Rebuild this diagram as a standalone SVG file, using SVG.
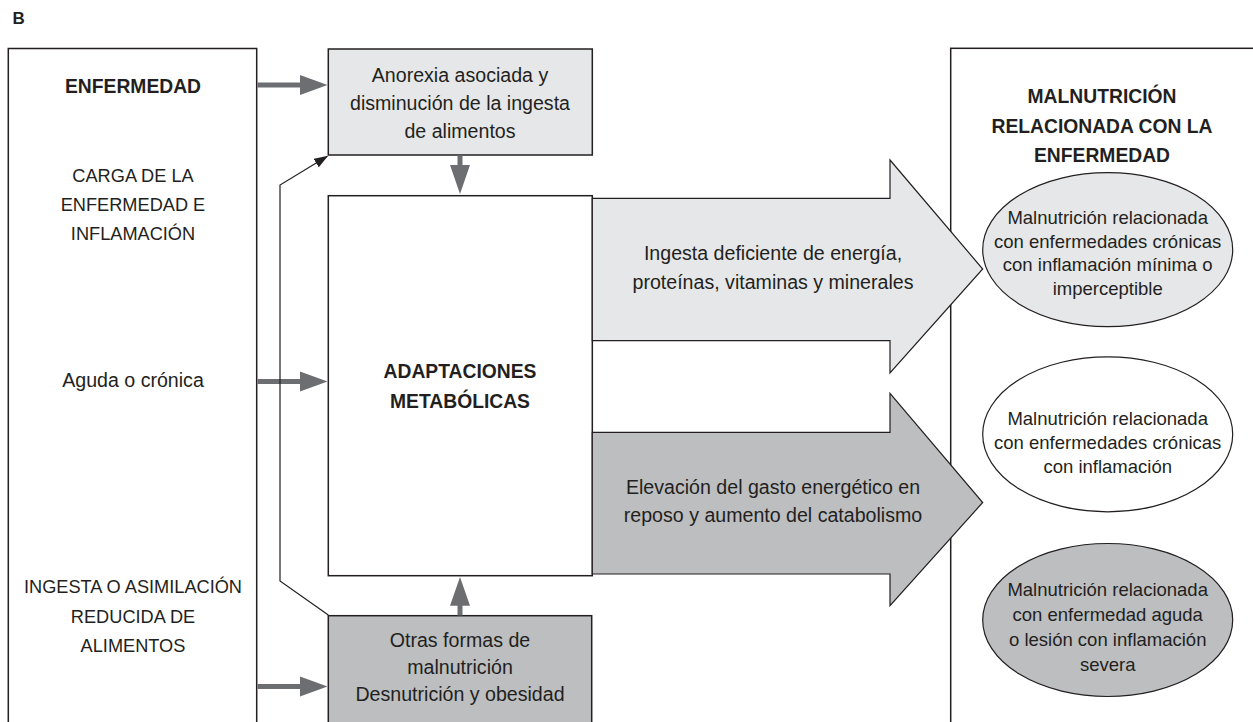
<svg xmlns="http://www.w3.org/2000/svg" width="1253" height="722" viewBox="0 0 1253 722">
<defs>
<style>
text{font-family:"Liberation Sans",Arial,sans-serif;fill:#231f20;text-anchor:middle}
.b{font-weight:bold;font-size:19.3px}
.r{font-size:19.6px}
.c{font-size:18.2px}
.e{font-size:18.5px}
.box{stroke:#231f20;stroke-width:1.5}
.thick{fill:#6d6e71}
.thin{fill:none;stroke:#231f20;stroke-width:1.2}
.ell{stroke:#231f20;stroke-width:1.2}
</style>
<marker id="ah" viewBox="0 0 14 10" refX="13" refY="5" markerWidth="14" markerHeight="10" markerUnits="userSpaceOnUse" orient="auto">
<path d="M0,0 L14,5 L0,10 Z" fill="#231f20"/>
</marker>
</defs>
<rect width="1253" height="722" fill="#fff"/>
<text x="12.5" y="24" style="font-weight:bold;font-size:17px;text-anchor:start">B</text>

<g id="enfermedad">
<rect class="box" x="8.3" y="48.5" width="248.4" height="700" fill="#fff"/>
<text class="b" x="133" y="93.3">ENFERMEDAD</text>
<text class="c" x="133" y="181.7">CARGA DE LA</text>
<text class="c" x="133" y="211">ENFERMEDAD E</text>
<text class="c" x="133" y="240">INFLAMACIÓN</text>
<text class="r" x="133" y="387">Aguda o crónica</text>
<text class="c" x="133" y="593">INGESTA O ASIMILACIÓN</text>
<text class="c" x="133" y="622.7">REDUCIDA DE</text>
<text class="c" x="133" y="651.7">ALIMENTOS</text>
</g>

<g id="anorexia">
<rect class="box" x="328.3" y="49" width="264" height="106" fill="#e6e7e8"/>
<text class="r" x="460" y="81.7">Anorexia asociada y</text>
<text class="r" x="460" y="110">disminución de la ingesta</text>
<text class="r" x="460" y="138.3">de alimentos</text>
</g>

<g id="adaptaciones">
<rect class="box" x="328.3" y="195.7" width="264" height="380" fill="#fff"/>
<text class="b" x="460" y="378.3">ADAPTACIONES</text>
<text class="b" x="460" y="408.3">METABÓLICAS</text>
</g>

<g id="otras">
<rect class="box" x="328.3" y="615.7" width="263.4" height="140" fill="#bcbec0"/>
<text class="r" x="460" y="647.3">Otras formas de</text>
<text class="r" x="460" y="673.5">malnutrición</text>
<text class="r" x="460" y="701">Desnutrición y obesidad</text>
</g>

<g id="malnutricion">
<rect class="box" x="950.7" y="48.3" width="320" height="700" fill="#fff"/>
<text class="b" x="1102" y="103">MALNUTRICIÓN</text>
<text class="b" x="1102" y="132.5">RELACIONADA CON LA</text>
<text class="b" x="1102" y="161.7">ENFERMEDAD</text>
</g>

<g id="ellipse-minima">
<ellipse class="ell" cx="1107.7" cy="249.7" rx="125" ry="77" fill="#e6e7e8"/>
<text class="e" x="1107.7" y="224">Malnutrición relacionada</text>
<text class="e" x="1107.7" y="247.5">con enfermedades crónicas</text>
<text class="e" x="1107.7" y="271">con inflamación mínima o</text>
<text class="e" x="1107.7" y="295">imperceptible</text>
</g>

<g id="ellipse-cronica">
<ellipse class="ell" cx="1107.7" cy="434.3" rx="125" ry="77.5" fill="#fff"/>
<text class="e" x="1107.7" y="425">Malnutrición relacionada</text>
<text class="e" x="1107.7" y="449">con enfermedades crónicas</text>
<text class="e" x="1107.7" y="473">con inflamación</text>
</g>

<g id="ellipse-aguda">
<ellipse class="ell" cx="1107.7" cy="620" rx="125" ry="76.5" fill="#bcbec0"/>
<text class="e" x="1107.7" y="596">Malnutrición relacionada</text>
<text class="e" x="1107.7" y="621">con enfermedad aguda</text>
<text class="e" x="1107.7" y="646">o lesión con inflamación</text>
<text class="e" x="1107.7" y="671">severa</text>
</g>

<g id="arrow-ingesta">
<polygon points="592.3,198.3 890,198.3 890,160 982.7,269 890,373 890,340.7 592.3,340.7" fill="#e6e7e8" stroke="#231f20" stroke-width="1.2"/>
<text class="r" x="773" y="260">Ingesta deficiente de energía,</text>
<text class="r" x="773" y="288.5">proteínas, vitaminas y minerales</text>
</g>

<g id="arrow-gasto">
<polygon points="592.3,432.3 890,432.3 890,393.3 982.7,502.5 890,605.7 890,574 592.3,574" fill="#bcbec0" stroke="#231f20" stroke-width="1.2"/>
<text class="r" x="773" y="493.5">Elevación del gasto energético en</text>
<text class="r" x="773" y="522">reposo y aumento del catabolismo</text>
</g>

<g id="connectors">
<polygon class="thick" points="257.5,82.5 300,82.5 300,75 327.5,85 300,95 300,87.5 257.5,87.5"/>
<polygon class="thick" points="257.5,379 300,379 300,371.5 327.5,381.5 300,391.5 300,384 257.5,384"/>
<polygon class="thick" points="257.5,684 300,684 300,676.5 327.5,686.5 300,696.5 300,689 257.5,689"/>
<polygon class="thick" points="457.5,155.5 457.5,165 450,165 460,194 470,165 462.5,165 462.5,155.5"/>
<polygon class="thick" points="457.5,615.5 457.5,605.7 450,605.7 460,577 470,605.7 462.5,605.7 462.5,615.5"/>
<polyline class="thin" points="328.3,615 280,581 280,185 327.3,156.3" marker-end="url(#ah)"/>
</g>
</svg>
